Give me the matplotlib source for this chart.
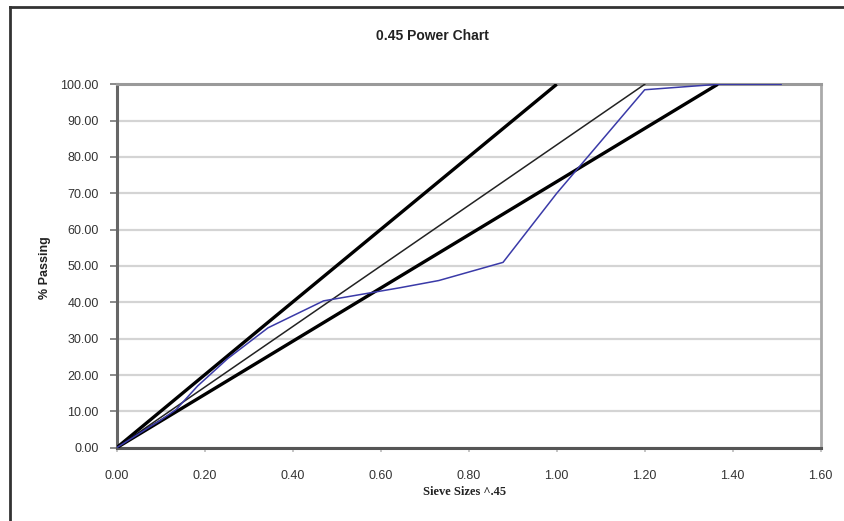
import matplotlib
matplotlib.use("Agg")
import matplotlib.pyplot as plt
from matplotlib.lines import Line2D
from matplotlib.ticker import FormatStrFormatter

# Sieve sizes raised to the 0.45 power (x) and % passing (y)
sieve_x = [0.0, 0.072, 0.099, 0.135, 0.184, 0.252, 0.344, 0.470, 0.643, 0.732, 0.878, 1.000, 1.200, 1.366, 1.510]
blend_passing = [0.0, 5.5, 7.5, 10.5, 17.0, 24.5, 33.0, 40.4, 44.0, 46.0, 51.0, 70.0, 98.5, 100.0, 100.0]

upper_x = [0.0, 0.344, 1.000]
upper_y = [0.0, 34.5, 100.0]

maxdens_x = [0.0, 1.200]
maxdens_y = [0.0, 100.0]

lower_x = [0.0, 1.366]
lower_y = [0.0, 100.0]

x_ticks = [0.0, 0.2, 0.4, 0.6, 0.8, 1.0, 1.2, 1.4, 1.6]
y_ticks = [0, 10, 20, 30, 40, 50, 60, 70, 80, 90, 100]

title = "0.45 Power Chart"
x_label = "Sieve Sizes ^.45"
y_label = "% Passing"

plt.rcParams['font.family'] = ['Liberation Sans', 'DejaVu Sans']

fig = plt.figure(figsize=(8.44, 5.21), dpi=100)
fig.patch.set_facecolor('white')
ax = fig.add_axes([0.1383, 0.1407, 0.8341, 0.6975])

ax.plot(upper_x, upper_y, color='black', lw=2.4, zorder=3, solid_capstyle='butt')
ax.plot(maxdens_x, maxdens_y, color='#222222', lw=1.1, zorder=3)
ax.plot(lower_x, lower_y, color='black', lw=2.4, zorder=3, solid_capstyle='butt')
ax.plot(sieve_x, blend_passing, color='#3a3aa8', lw=1.1, zorder=4)

ax.set_xlim(0, 1.6)
ax.set_ylim(0, 100)
ax.set_xticks(x_ticks)
ax.set_yticks(y_ticks)
ax.xaxis.set_major_formatter(FormatStrFormatter('%.2f'))
ax.yaxis.set_major_formatter(FormatStrFormatter('%.2f'))
ax.tick_params(axis='y', direction='out', length=5, width=1.2, color='#777777',
               labelsize=9, pad=8, labelcolor='#333333')
ax.tick_params(axis='x', direction='out', length=3, width=1.2, color='#bbbbbb',
               labelsize=9, pad=13, labelcolor='#333333')

ax.yaxis.grid(True, color='#d4d4d4', lw=1.6)
ax.set_axisbelow(True)

ax.spines['left'].set_color('#666666')
ax.spines['left'].set_linewidth(2.2)
ax.spines['bottom'].set_color('#555555')
ax.spines['bottom'].set_linewidth(2.2)
ax.spines['top'].set_color('#9a9a9a')
ax.spines['top'].set_linewidth(2.2)
ax.spines['right'].set_color('#aaaaaa')
ax.spines['right'].set_linewidth(2.0)

fig.text(432 / 844, 1 - 36 / 521, title, ha='center', va='center',
         fontsize=10, fontweight='bold', color='#222222')
fig.text(45 / 844, 1 - 268 / 521, y_label, ha='center', va='center',
         rotation=90, fontsize=9, fontweight='bold', color='#222222')
fig.text(465 / 844, 1 - 492 / 521, x_label, ha='center', va='center',
         fontsize=9, fontweight='bold', color='#222222', family=['Liberation Serif', 'DejaVu Serif'])

# outer chart border (top and left visible)
fig.add_artist(Line2D([10 / 844, 1.0], [1 - 7 / 521, 1 - 7 / 521], transform=fig.transFigure,
                      color='#333333', lw=2.0))
fig.add_artist(Line2D([10 / 844, 10 / 844], [1 - 7 / 521, 0.0], transform=fig.transFigure,
                      color='#333333', lw=2.0))

fig.savefig('out.png', dpi=100)
